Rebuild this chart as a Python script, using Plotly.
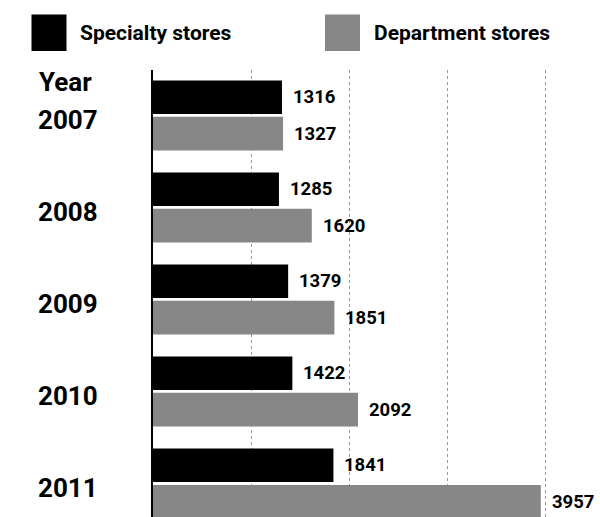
import plotly.graph_objects as go

years = ["2007", "2008", "2009", "2010", "2011"]
specialty = [1316, 1285, 1379, 1422, 1841]
department = [1327, 1620, 1851, 2092, 3957]
series_names = ["Specialty stores", "Department stores"]
colors = ["#000000", "#878787"]
grid_vals = [1000, 2000, 3000, 4000]

W, H = 600, 517
ML, MT = 153, 70
PW, PH = W - ML, H - MT
FONT = "Roboto"

def px_x(x):
    return (x - ML) / PW

def px_y(y):
    return 1 - (y - MT) / PH

fig = go.Figure()
for name, vals, col in zip(series_names, [specialty, department], colors):
    fig.add_trace(go.Bar(
        y=years, x=vals, orientation="h", name=name,
        marker=dict(color=col, line=dict(width=0)),
        showlegend=False,
    ))

annotations = []
# value labels (category index positions on the y axis)
offsets = [18.25, -18.25]
for vals, off in zip([specialty, department], offsets):
    for i, v in enumerate(vals):
        annotations.append(dict(
            x=v, y=i, xref="x", yref="y", text=f"<b>{v}</b>",
            showarrow=False, xanchor="left", yanchor="middle",
            xshift=9, yshift=off,
            font=dict(family=FONT, size=18.5, color="#000"),
        ))
# year labels
for i, yr in enumerate(years):
    annotations.append(dict(
        x=px_x(36), y=i, xref="paper", yref="y", text=f"<b>{yr}</b>",
        showarrow=False, xanchor="left", yanchor="middle", yshift=-5,
        font=dict(family=FONT, size=26, color="#000"),
    ))
annotations.append(dict(
    x=px_x(37), y=px_y(82), xref="paper", yref="paper", text="<b>Year</b>",
    showarrow=False, xanchor="left", yanchor="middle",
    font=dict(family=FONT, size=26, color="#000"),
))
# legend
shapes = []
leg = [(31.5, 78, series_names[0], colors[0]), (325, 372, series_names[1], colors[1])]
for sx, tx, name, col in leg:
    shapes.append(dict(type="rect", xref="paper", yref="paper",
                       x0=px_x(sx), x1=px_x(sx + 35), y0=px_y(51), y1=px_y(14.5),
                       fillcolor=col, line=dict(width=0)))
    annotations.append(dict(
        x=px_x(tx), y=px_y(33), xref="paper", yref="paper", text=f"<b>{name}</b>",
        showarrow=False, xanchor="left", yanchor="middle",
        font=dict(family=FONT, size=21, color="#000"),
    ))

fig.update_layout(
    width=W, height=H,
    margin=dict(l=ML, r=0, t=MT, b=0, pad=0),
    paper_bgcolor="white", plot_bgcolor="white",
    barmode="group", bargap=0.207, bargroupgap=0.08,
    annotations=annotations, shapes=shapes,
    xaxis=dict(range=[0, 4561], tickvals=grid_vals, showticklabels=False,
               showgrid=True, gridcolor="#999999", griddash="dot", gridwidth=1,
               zeroline=False, showline=False, ticks=""),
    yaxis=dict(type="category", categoryorder="array", categoryarray=years,
               range=[4.365, -0.4935], showticklabels=False, showgrid=False,
               showline=True, linecolor="#000", linewidth=2, zeroline=False, ticks=""),
)

fig.write_html("out.html")
